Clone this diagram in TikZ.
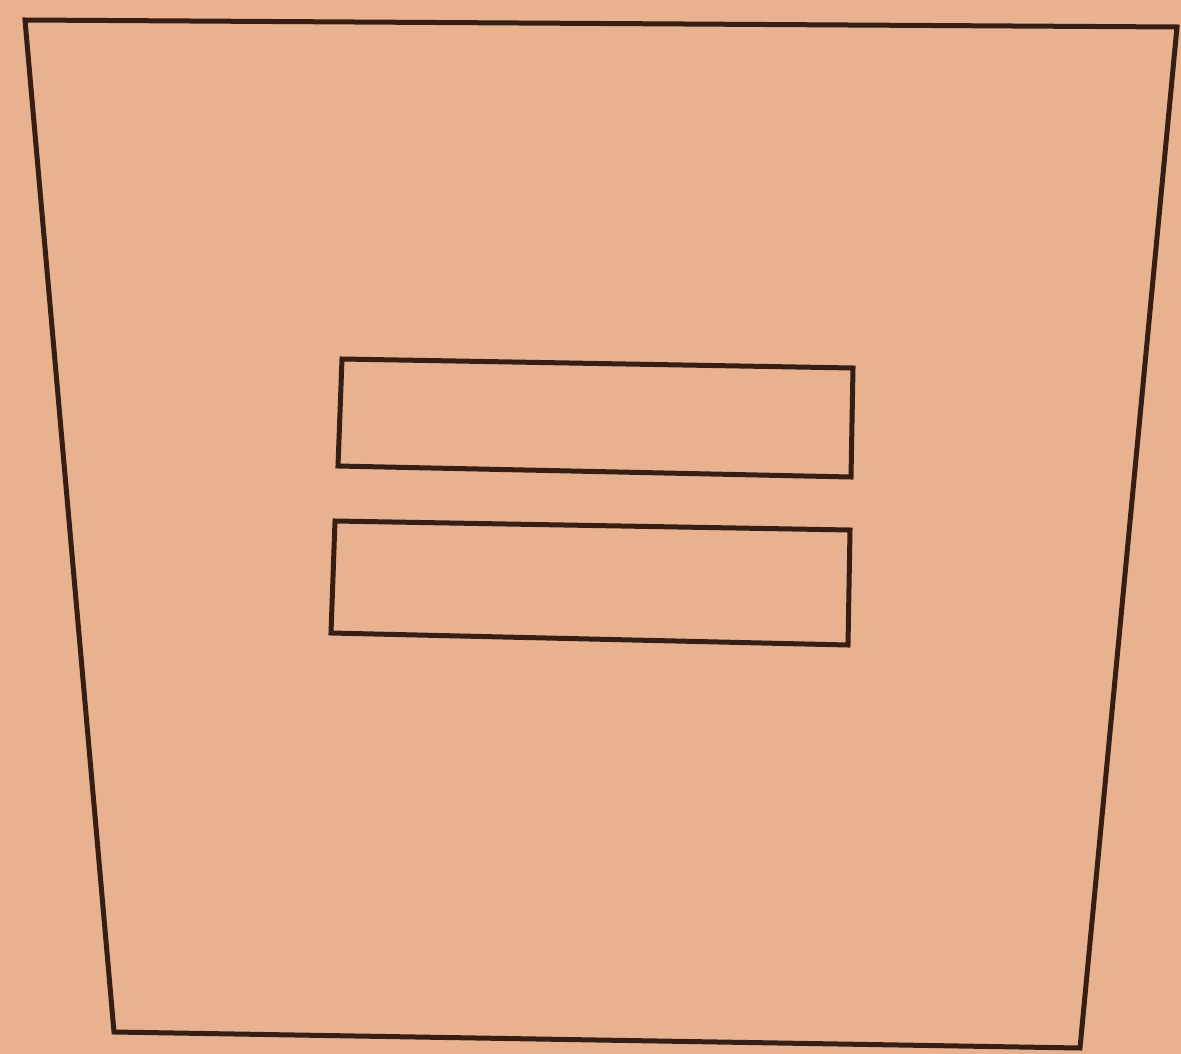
\documentclass[tikz,border=0pt]{standalone}
\definecolor{paper}{RGB}{232,178,145}
\definecolor{ink}{RGB}{55,30,20}
\tikzset{outline/.style={draw=ink,line width=5pt,line join=miter}}
\begin{document}
\begin{tikzpicture}[x=1pt,y=-1pt]
\fill[paper] (0,0) rectangle (1181,1054);
\useasboundingbox (0,0) rectangle (1181,1054);
% outer trapezoid
\coordinate (o1) at (25,20);
\coordinate (o2) at (1177,27);
\coordinate (o3) at (1080,1048);
\coordinate (o4) at (114,1032);
\draw[outline] (o1) -- (o2) -- (o3) -- (o4) -- cycle;
% upper rectangle
\coordinate (a1) at (342,359);
\coordinate (a2) at (853,368);
\coordinate (a3) at (851,477);
\coordinate (a4) at (338,466);
\draw[outline] (a1) -- (a2) -- (a3) -- (a4) -- cycle;
% lower rectangle
\coordinate (b1) at (335,521);
\coordinate (b2) at (850,530);
\coordinate (b3) at (848,645);
\coordinate (b4) at (331,633);
\draw[outline] (b1) -- (b2) -- (b3) -- (b4) -- cycle;
\end{tikzpicture}
\end{document}
